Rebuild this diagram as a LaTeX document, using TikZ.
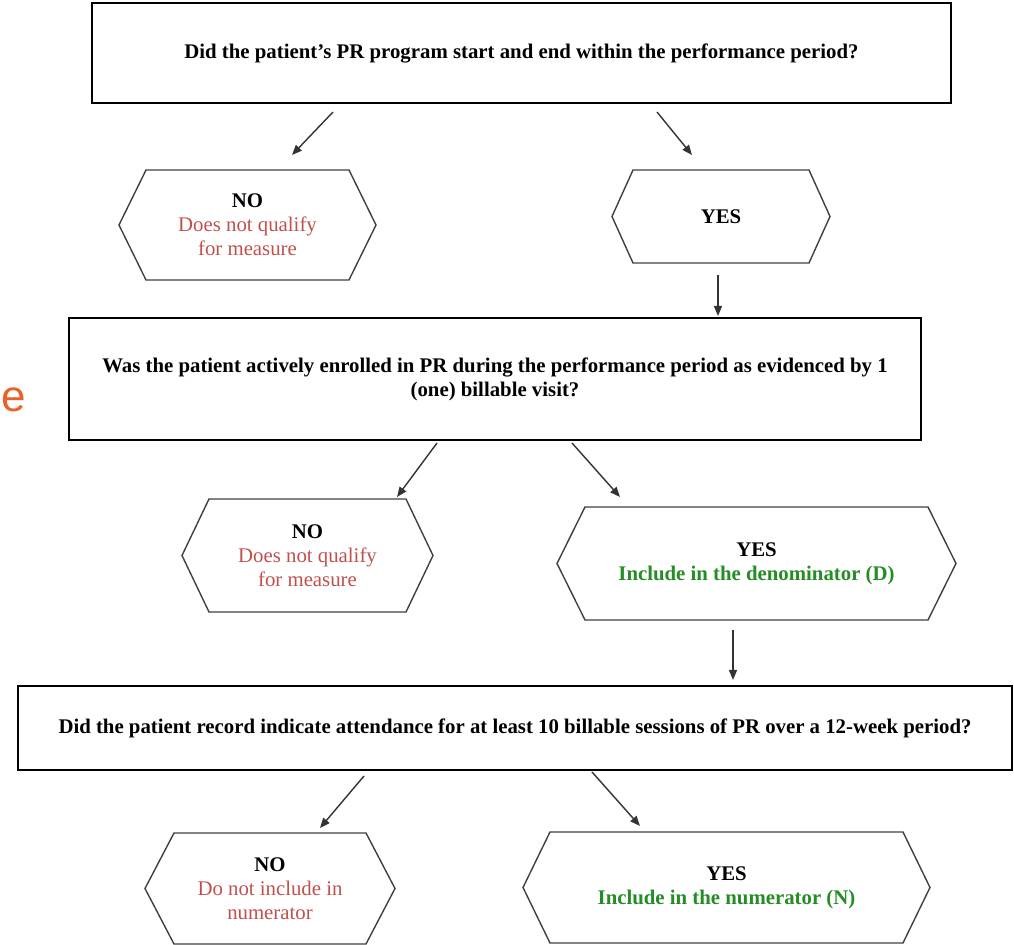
\documentclass[tikz,border=0pt]{standalone}
\usepackage{fontspec}
\setmainfont{Liberation Serif}
\newfontfamily\strayfont{Liberation Sans}
\usetikzlibrary{arrows.meta}
\definecolor{nored}{RGB}{192,80,77}
\definecolor{yesgreen}{RGB}{38,140,38}
\definecolor{strayorange}{RGB}{234,98,40}

\begin{document}
\begin{tikzpicture}[x=0.5pt, y=-0.5pt,
  >={Triangle[length=5pt,width=4pt]}, font=\fontsize{10.4}{11.9}\selectfont,
  quest/.style={rectangle, draw=black, line width=1pt, align=center, outer sep=0pt,
                font=\fontsize{10.4}{12}\selectfont\bfseries},
  hexa/.style={rectangle, align=center, outer sep=0pt, inner sep=0pt},
  hexline/.style={draw=black!75, line width=0.7pt},
  e/.style={->, line width=0.7pt, draw=black!80},
]
\useasboundingbox (0,0) rectangle (1014,945);

\node[quest, minimum width=429.5pt, minimum height=50pt] (q1) at (521.5,53)
  {Did the patient’s PR program start and end within the performance period?};
\node[hexa, minimum width=128.5pt, minimum height=55pt] (no1) at (247.5,225)
  {\textbf{NO}\\ \color{nored}Does not qualify\\ \color{nored}for measure};
\node[hexa, minimum width=109pt, minimum height=46.5pt] (yes1) at (721,216.5) {\textbf{YES}};

\node[quest, minimum width=426pt, minimum height=61pt] (q2) at (495,379)
  {Was the patient actively enrolled in PR during the performance period as evidenced by 1\\ (one) billable visit?};
\node[hexa, minimum width=125.5pt, minimum height=56.5pt] (no2) at (307.5,555.5)
  {\textbf{NO}\\ \color{nored}Does not qualify\\ \color{nored}for measure};
\node[hexa, minimum width=199.5pt, minimum height=56.5pt] (yes2) at (756.5,563.5)
  {\textbf{YES}\\ \color{yesgreen}\textbf{Include in the denominator (D)}};

\node[quest, minimum width=497pt, minimum height=42pt] (q3) at (515,728)
  {Did the patient record indicate attendance for at least 10 billable sessions of PR over a 12-week period?};
\node[hexa, minimum width=125pt, minimum height=55.5pt] (no3) at (270,888.5)
  {\textbf{NO}\\ \color{nored}Do not include in\\ \color{nored}numerator};
\node[hexa, minimum width=203.5pt, minimum height=55.5pt] (yes3) at (726.5,887.5)
  {\textbf{YES}\\ \color{yesgreen}\textbf{Include in the numerator (N)}};

% hexagon outlines round the answer nodes
\foreach \n/\d in {no1/13.5pt, yes1/10.5pt, no2/13.5pt, yes2/14pt, no3/14.5pt, yes3/13.5pt}
  \draw[hexline] (\n.west) -- ([xshift=\d]\n.north west) -- ([xshift=-\d]\n.north east)
    -- (\n.east) -- ([xshift=-\d]\n.south east) -- ([xshift=\d]\n.south west) -- cycle;

\draw[e] ([shift={(-188.5,9)}]q1.south) -- ([shift={(44.5,-15)}]no1.north);
\draw[e] ([shift={(135.5,9)}]q1.south)  -- ([shift={(-29,-15)}]yes1.north);
\draw[e] ([shift={(-3,12)}]yes1.south)  -- ([shift={(223,-2)}]q2.north);
\draw[e] ([shift={(-58,3)}]q2.south)    -- ([shift={(89.5,-2)}]no2.north);
\draw[e] ([shift={(77,3)}]q2.south)     -- ([shift={(-136.5,-10)}]yes2.north);
\draw[e] ([shift={(-23.5,10)}]yes2.south) -- ([shift={(218,-6)}]q3.north);
\draw[e] ([shift={(-151,6)}]q3.south)   -- ([shift={(50,-5)}]no3.north);
\draw[e] ([shift={(77,2)}]q3.south)     -- ([shift={(-86.5,-6)}]yes3.north);

\node[inner sep=0pt, anchor=west, text=strayorange, font=\strayfont\fontsize{22}{24}\selectfont] (stray) at (1,400) {e};
\end{tikzpicture}
\end{document}
